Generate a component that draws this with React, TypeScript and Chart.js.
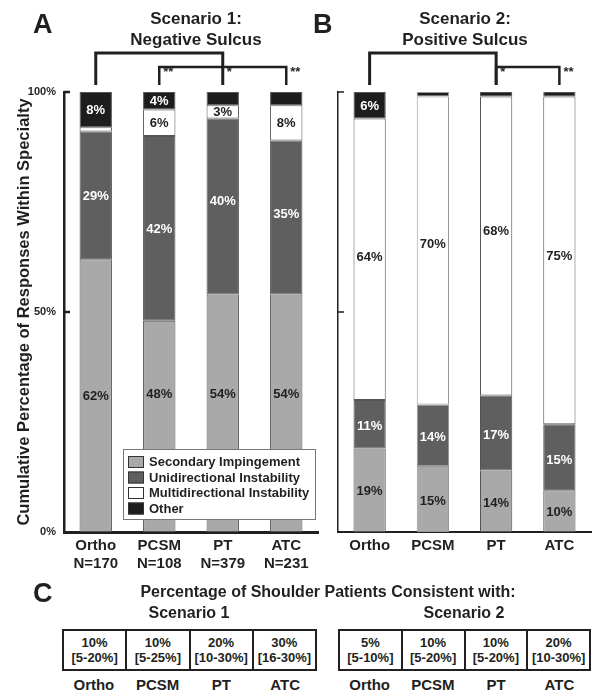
import React, { useEffect, useRef } from 'react';
import { Chart, registerables } from 'chart.js';
Chart.register(...registerables);

const FONT = "'Liberation Sans', Arial, Helvetica, sans-serif";
const INK = '#231f20';

// ---------- data ----------
const specialties = ['Ortho', 'PCSM', 'PT', 'ATC'];
const sampleSizes = ['N=170', 'N=108', 'N=379', 'N=231'];
const responseTypes = ['Secondary Impingement', 'Unidirectional Instability', 'Multidirectional Instability', 'Other'];
const fillColors = ['#a9a9a9', '#5f5f5f', '#ffffff', '#1d1d1d'];
const labelColors = [INK, '#ffffff', INK, '#ffffff'];
const yTickValues = [0, 50, 100];

// Scenario 1: Negative Sulcus (% of responses)
const s1Secondary = [62, 48, 54, 54];
const s1Unidirectional = [29, 42, 40, 35];
const s1Multidirectional = [1, 6, 3, 8];
const s1Other = [8, 4, 3, 3];
const s1SecondaryText = ['62%', '48%', '54%', '54%'];
const s1UnidirectionalText = ['29%', '42%', '40%', '35%'];
const s1MultidirectionalText = [null, '6%', '3%', '8%'];
const s1OtherText = ['8%', '4%', null, null];
const s1Brackets = [{ from: 0, to: 2, level: 0 }, { from: 1, to: 3, level: 1 }];
const s1Stars = [null, '**', '*', '**'];

// Scenario 2: Positive Sulcus
const s2Secondary = [19, 15, 14, 9.5];
const s2Unidirectional = [11, 14, 17, 15];
const s2Multidirectional = [64, 70, 68, 74.5];
const s2Other = [6, 1, 1, 1];
const s2SecondaryText = ['19%', '15%', '14%', '10%'];
const s2UnidirectionalText = ['11%', '14%', '17%', '15%'];
const s2MultidirectionalText = ['64%', '70%', '68%', '75%'];
const s2OtherText = ['6%', null, null, null];
const s2Brackets = [{ from: 0, to: 2, level: 0 }, { from: 2, to: 3, level: 1 }];
const s2Stars = [null, null, '*', '**'];

// Panel C
const s1Consistent = ['10%', '10%', '20%', '30%'];
const s1Range = ['[5-20%]', '[5-25%]', '[10-30%]', '[16-30%]'];
const s2Consistent = ['5%', '10%', '10%', '20%'];
const s2Range = ['[5-10%]', '[5-20%]', '[5-20%]', '[10-30%]'];

// ---------- plugin ----------
function makeDecor(cfg: any) {
  return {
    id: 'decor' + cfg.key,
    afterDatasetsDraw(chart: any) {
      const ctx = chart.ctx;
      ctx.save();
      ctx.font = `bold 13px ${FONT}`;
      ctx.textAlign = 'center';
      ctx.textBaseline = 'middle';
      cfg.texts.forEach((arr: any[], d: number) => {
        const meta = chart.getDatasetMeta(d);
        meta.data.forEach((el: any, i: number) => {
          const t = arr[i];
          if (!t) return;
          const p = el.getProps(['x', 'y', 'base'], true);
          const shift = (cfg.shifts && cfg.shifts[d] && cfg.shifts[d][i]) || 0;
          ctx.fillStyle = labelColors[d];
          ctx.fillText(t, p.x, (p.y + p.base) / 2 + shift + 1);
        });
      });
      if (cfg.legend) {
        const L = cfg.legend;
        ctx.fillStyle = '#ffffff';
        ctx.fillRect(L.x, L.y, L.w, L.h);
        ctx.strokeStyle = '#777';
        ctx.lineWidth = 1;
        ctx.strokeRect(L.x + 0.5, L.y + 0.5, L.w - 1, L.h - 1);
        ctx.font = `bold 13px ${FONT}`;
        ctx.textAlign = 'left';
        ctx.textBaseline = 'middle';
        responseTypes.forEach((name, i) => {
          const cy = L.y + 13 + i * 15.5;
          ctx.fillStyle = fillColors[i];
          ctx.fillRect(L.x + 5, cy - 6, 16, 12);
          ctx.strokeStyle = '#333';
          ctx.strokeRect(L.x + 5.5, cy - 5.5, 15, 11);
          ctx.fillStyle = INK;
          ctx.fillText(name, L.x + 26, cy + 0.5);
        });
      }
      ctx.restore();
    },
    afterDraw(chart: any) {
      const ctx = chart.ctx;
      const area = chart.chartArea;
      const xs = chart.scales.x;
      const ys = chart.scales.y;
      ctx.save();
      // inward ticks
      ctx.strokeStyle = INK;
      ctx.lineWidth = cfg.tickWidth;
      yTickValues.slice(1).forEach((v) => {
        const y = ys.getPixelForValue(v);
        ctx.beginPath();
        ctx.moveTo(area.left, y);
        ctx.lineTo(area.left + 6, y);
        ctx.stroke();
      });
      // panel letter
      ctx.fillStyle = INK;
      ctx.font = `bold 27px ${FONT}`;
      ctx.textAlign = 'left';
      ctx.textBaseline = 'alphabetic';
      ctx.fillText(cfg.letter, cfg.letterX, 33);
      // titles
      ctx.font = `bold 17px ${FONT}`;
      ctx.textAlign = 'center';
      ctx.textBaseline = 'middle';
      cfg.title.forEach((line: string, i: number) => ctx.fillText(line, cfg.titleX, 19.5 + i * 21));
      // brackets
      const levelY = [53, 67];
      const legBottom = 85;
      ctx.strokeStyle = INK;
      ctx.lineCap = 'butt';
      ctx.lineJoin = 'miter';
      cfg.brackets.forEach((b: any) => {
        const x1 = xs.getPixelForValue(b.from);
        const x2 = xs.getPixelForValue(b.to);
        const y = levelY[b.level];
        ctx.lineWidth = b.level === 0 ? 3 : 2.5;
        ctx.beginPath();
        ctx.moveTo(x1, legBottom);
        ctx.lineTo(x1, y);
        ctx.lineTo(x2, y);
        ctx.lineTo(x2, legBottom);
        ctx.stroke();
      });
      ctx.font = `bold 13px ${FONT}`;
      ctx.textAlign = 'left';
      ctx.textBaseline = 'top';
      cfg.stars.forEach((s: string | null, i: number) => {
        if (!s) return;
        ctx.fillText(s, xs.getPixelForValue(i) + 4, 66);
      });
      ctx.restore();
    },
  };
}

function makeConfig(cfg: any) {
  return {
    type: 'bar',
    data: {
      labels: cfg.labels,
      datasets: cfg.series.map((s: number[], i: number) => ({
        label: responseTypes[i],
        data: s,
        backgroundColor: fillColors[i],
        borderColor: cfg.barBorder,
        borderWidth: 1,
        borderSkipped: false,
        barPercentage: 1,
        categoryPercentage: 0.51,
      })),
    },
    options: {
      responsive: false,
      animation: false,
      devicePixelRatio: 1,
      layout: { padding: { top: 92, left: 0, right: cfg.padRight, bottom: 0 } },
      plugins: { legend: { display: false }, tooltip: { enabled: false }, title: { display: false } },
      scales: {
        x: {
          stacked: true,
          grid: { display: false, drawTicks: false },
          border: { display: true, color: INK, width: cfg.xBorder },
          ticks: {
            color: INK,
            font: { family: FONT, size: 15, weight: 'bold', lineHeight: 1.2 },
            padding: 5,
            maxRotation: 0,
            autoSkip: false,
          },
          afterFit: (s: any) => { s.height = 48; },
        },
        y: {
          stacked: true,
          min: 0,
          max: 100,
          afterBuildTicks: (s: any) => { s.ticks = yTickValues.map((v) => ({ value: v })); },
          grid: { display: false, drawTicks: false },
          border: { display: true, color: INK, width: cfg.yBorder },
          ticks: {
            display: cfg.showY,
            color: INK,
            font: { family: FONT, size: 11, weight: 'bold' },
            padding: 8,
            callback: (v: any) => v + '%',
          },
          title: {
            display: cfg.showY,
            text: 'Cumulative Percentage of Responses Within Specialty',
            color: INK,
            font: { family: FONT, size: 16.5, weight: 'bold' },
            padding: { top: 15, bottom: 0 },
          },
          afterFit: (s: any) => { s.width = cfg.yWidth; },
        },
      },
    },
    plugins: [makeDecor(cfg)],
  };
}

function PanelChart({ cfg, left, width }: any) {
  const ref = useRef<HTMLCanvasElement>(null);
  useEffect(() => {
    const chart = new Chart(ref.current as HTMLCanvasElement, makeConfig(cfg) as any);
    return () => chart.destroy();
  }, []);
  return (
    <canvas
      ref={ref}
      width={width}
      height={580}
      style={{ position: 'absolute', left, top: 0, width, height: 580 }}
    />
  );
}

const centered = (x: number, y: number, size: number, text: string, key?: any) => (
  <div
    key={key}
    style={{
      position: 'absolute',
      left: x,
      top: y,
      transform: 'translate(-50%, -50%)',
      whiteSpace: 'nowrap',
      fontWeight: 'bold',
      fontSize: size,
      lineHeight: `${size + 2}px`,
      color: INK,
    }}
  >
    {text}
  </div>
);

function SummaryTable({ left, width, values, ranges }: any) {
  const cw = width / 4;
  return (
    <>
      <div
        style={{
          position: 'absolute',
          left,
          top: 629,
          width,
          height: 42,
          boxSizing: 'border-box',
          border: `2px solid ${INK}`,
          display: 'flex',
        }}
      >
        {values.map((v: string, i: number) => (
          <div
            key={i}
            style={{
              flex: 1,
              borderLeft: i === 0 ? 'none' : `2px solid ${INK}`,
              display: 'flex',
              flexDirection: 'column',
              alignItems: 'center',
              justifyContent: 'center',
              fontWeight: 'bold',
              fontSize: 13,
              lineHeight: '15px',
              color: INK,
            }}
          >
            <div>{v}</div>
            <div>{ranges[i]}</div>
          </div>
        ))}
      </div>
      {specialties.map((s, i) => centered(left + cw * (i + 0.5), 684, 15, s, 'l' + i))}
    </>
  );
}

export default function App() {
  useEffect(() => {
    document.body.style.margin = '0';
  }, []);

  const cfgA = {
    key: 'A',
    labels: specialties.map((s, i) => [s, sampleSizes[i]]),
    series: [s1Secondary, s1Unidirectional, s1Multidirectional, s1Other],
    texts: [s1SecondaryText, s1UnidirectionalText, s1MultidirectionalText, s1OtherText],
    shifts: [[0, -33, -20, -20], [0, 0, -6, -4], [0, 0, 0, 0], [0, 0, 0, 0]],
    brackets: s1Brackets,
    stars: s1Stars,
    title: ['Scenario 1:', 'Negative Sulcus'],
    titleX: 196,
    letter: 'A',
    letterX: 33,
    showY: true,
    yWidth: 64,
    padRight: 2,
    xBorder: 3,
    yBorder: 2.5,
    tickWidth: 2.5,
    barBorder: '#555',
    legend: { x: 123, y: 449, w: 193, h: 71 },
  };
  const cfgB = {
    key: 'B',
    labels: specialties,
    series: [s2Secondary, s2Unidirectional, s2Multidirectional, s2Other],
    texts: [s2SecondaryText, s2UnidirectionalText, s2MultidirectionalText, s2OtherText],
    shifts: [[0, 1, 1, 0], [1, 1, 1, 2], [-3, -7, -16, -5], [0, 0, 0, 0]],
    brackets: s2Brackets,
    stars: s2Stars,
    title: ['Scenario 2:', 'Positive Sulcus'],
    titleX: 165,
    letter: 'B',
    letterX: 13,
    showY: false,
    yWidth: 38,
    padRight: 1,
    xBorder: 2,
    yBorder: 1.5,
    tickWidth: 1.5,
    barBorder: ['#555', '#999', '#555', '#555'],
    legend: null,
  };

  return (
    <div
      style={{
        position: 'absolute',
        left: 0,
        top: 0,
        width: 592,
        height: 695,
        background: '#fff',
        fontFamily: FONT,
        overflow: 'hidden',
      }}
    >
      <PanelChart cfg={cfgA} left={0} width={320} />
      <PanelChart cfg={cfgB} left={300} width={292} />
      <div
        style={{
          position: 'absolute',
          left: 33,
          top: 578,
          fontWeight: 'bold',
          fontSize: 27,
          lineHeight: '30px',
          color: INK,
        }}
      >
        C
      </div>
      {centered(328, 592, 16, 'Percentage of Shoulder Patients Consistent with:')}
      {centered(189, 613, 16, 'Scenario 1')}
      {centered(464, 613, 16, 'Scenario 2')}
      <SummaryTable left={62} width={255} values={s1Consistent} ranges={s1Range} />
      <SummaryTable left={338} width={253} values={s2Consistent} ranges={s2Range} />
    </div>
  );
}
